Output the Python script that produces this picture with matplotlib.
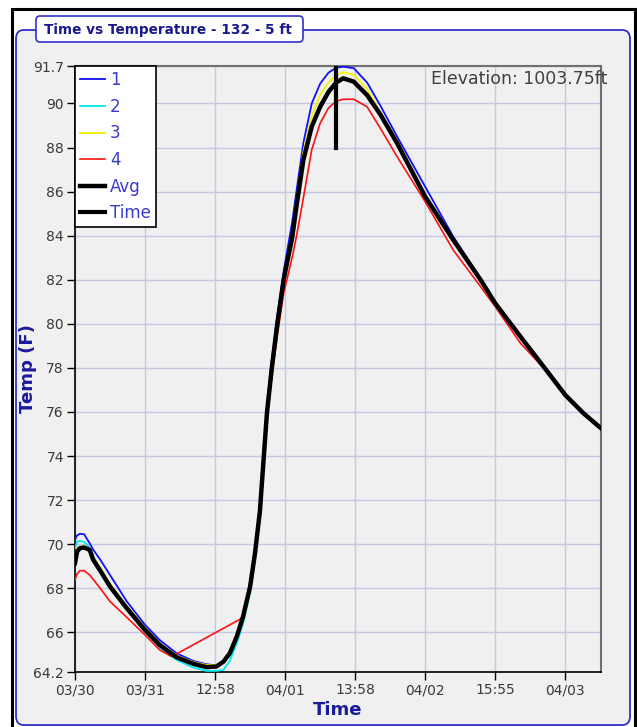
import matplotlib
matplotlib.use("Agg")
import matplotlib.pyplot as plt
from matplotlib.patches import FancyBboxPatch, Rectangle

# x positions in tick units (one unit per labelled tick)
x = [0, 0.03, 0.07, 0.13, 0.21, 0.26, 0.36, 0.5, 0.74, 1.0, 1.21, 1.45, 1.69, 1.88,
     2.02, 2.12, 2.21, 2.31, 2.4, 2.5, 2.57, 2.64, 2.74, 2.81, 2.89, 2.98, 3.1, 3.17,
     3.26, 3.38, 3.5, 3.62, 3.73, 3.83, 3.98, 4.17, 4.36, 4.6, 5.0, 5.4, 5.79, 6.0,
     6.36, 6.69, 7.0, 7.26, 7.51]

s1 = [70.2, 70.4, 70.47, 70.45, 70.04, 69.75, 69.3, 68.6, 67.4, 66.34, 65.65, 65.05,
      64.7, 64.55, 64.5, 64.67, 65.05, 65.85, 66.8, 68.2, 69.8, 71.8, 76.3, 78.4, 80.4,
      82.4, 84.6, 86.2, 88.2, 90.0, 90.9, 91.4, 91.62, 91.67, 91.6, 90.95, 89.9, 88.49,
      86.22, 83.96, 82.05, 80.95, 79.45, 78.08, 76.78, 75.95, 75.27]

s2 = [69.8, 70.12, 70.15, 70.1, 69.85, 69.45, 68.9, 68.15, 67.05, 66.0, 65.3, 64.75,
      64.4, 64.25, 64.25, 64.3, 64.7, 65.5, 66.4, 67.8, 69.3, 71.2, 75.6, 77.7, 79.8,
      81.8, 83.8, 85.4, 87.4, 88.95, 89.85, 90.55, 90.98, 91.16, 91.02, 90.4, 89.45,
      88.2, 85.78, 83.82, 82.0, 80.92, 79.4, 78.03, 76.73, 75.9, 75.22]

s3 = [69.3, 69.8, 69.9, 69.92, 69.8, 69.4, 68.95, 68.2, 67.2, 66.2, 65.5, 64.95,
      64.65, 64.52, 64.52, 64.7, 65.1, 65.85, 66.75, 68.1, 69.6, 71.5, 76.0, 78.1, 80.1,
      82.1, 84.1, 85.8, 87.8, 89.4, 90.4, 90.95, 91.3, 91.42, 91.3, 90.65, 89.6, 88.3,
      85.85, 83.85, 82.02, 80.95, 79.44, 78.08, 76.8, 75.96, 75.28]

avg = [69.14, 69.66, 69.82, 69.85, 69.74, 69.29, 68.8, 68.08, 67.09, 66.11, 65.43,
       64.87, 64.57, 64.42, 64.45, 64.67, 65.05, 65.81, 66.72, 68.08, 69.59, 71.5,
       75.94, 78.0, 80.03, 82.02, 83.9, 85.5, 87.43, 88.95, 89.85, 90.53, 90.95, 91.14,
       90.99, 90.38, 89.5, 88.19, 85.77, 83.81, 82.0, 80.93, 79.42, 78.06, 76.77, 75.94,
       75.26]

# sensor 4 has a gap in the data that the chart bridges with a straight line
x4 = [0, 0.03, 0.07, 0.13, 0.21, 0.36, 0.5, 0.74, 1.0, 1.21, 1.38, 2.36, 2.4, 2.5,
      2.57, 2.64, 2.74, 2.81, 2.89, 2.98, 3.1, 3.17, 3.26, 3.38, 3.5, 3.62, 3.73, 3.83,
      3.98, 4.17, 4.36, 4.6, 5.0, 5.4, 5.79, 6.0, 6.36, 6.69, 7.0, 7.26, 7.51]
s4 = [68.38, 68.65, 68.8, 68.8, 68.6, 68.0, 67.4, 66.68, 65.88, 65.2, 64.9, 66.6,
      66.72, 68.0, 69.4, 71.2, 75.6, 77.6, 79.5, 81.4, 83.0, 84.1, 85.7, 87.9, 89.1,
      89.8, 90.1, 90.19, 90.19, 89.85, 88.87, 87.58, 85.54, 83.35, 81.69, 80.78, 79.12,
      78.0, 76.75, 75.92, 75.24]

time_mark = 3.73
time_span = [88.0, 91.7]

xtick_pos = [0, 1, 2, 3, 4, 5, 6, 7]
xtick_labels = ["03/30", "03/31", "12:58", "04/01", "13:58", "04/02", "15:55", "04/03"]
ytick_pos = [64.2, 66, 68, 70, 72, 74, 76, 78, 80, 82, 84, 86, 88, 90, 91.7]
ytick_labels = ["64.2", "66", "68", "70", "72", "74", "76", "78", "80", "82", "84",
                "86", "88", "90", "91.7"]

W, H = 637, 727
fig = plt.figure(figsize=(W / 100, H / 100), dpi=100)
fig.patch.set_facecolor("white")

# outer black frame
fig.patches.append(Rectangle((12 / W, -0.01), (635 - 12) / W, 1.01 - 9 / H,
                             transform=fig.transFigure, fill=False,
                             edgecolor="black", linewidth=2.2, zorder=0))
# grey panel with blue rounded border
fig.patches.append(FancyBboxPatch((16 / W, 2 / H), (630 - 16) / W, (697 - 2) / H,
                                  boxstyle="round,pad=0,rounding_size=0.012",
                                  transform=fig.transFigure, facecolor="#f0f0f0",
                                  edgecolor="#3030c8", linewidth=1.3, zorder=0.5))
# title box
fig.patches.append(FancyBboxPatch((36 / W, 1 - 42 / H), (303 - 36) / W, 26 / H,
                                  boxstyle="round,pad=0,rounding_size=0.006",
                                  transform=fig.transFigure, facecolor="white",
                                  edgecolor="#3030c8", linewidth=1.2, zorder=1))
fig.text(168 / W, 1 - 30 / H, "Time vs Temperature - 132 - 5 ft", ha="center",
         va="center", fontsize=9.8, fontweight="bold", color="#1a1a8c", zorder=2)

ax = fig.add_axes([75 / W, 1 - 672 / H, (601 - 75) / W, (672 - 66) / H])
ax.set_zorder(3)
ax.set_facecolor("#f0f0f0")

ax.plot(x, s1, color="#1010ff", linewidth=1.3, label="1", zorder=3)
ax.plot(x, s2, color="#00e8f0", linewidth=1.3, label="2", zorder=3)
ax.plot(x, s3, color="#f5f000", linewidth=1.3, label="3", zorder=3)
ax.plot(x4, s4, color="#ff1010", linewidth=1.2, label="4", zorder=3)
ax.plot(x, avg, color="black", linewidth=3.2, label="Avg", zorder=4)
ax.plot([time_mark, time_mark], time_span, color="black", linewidth=3, label="Time",
        zorder=5)

ax.set_xlim(0, 7.51)
ax.set_ylim(64.2, 91.7)
ax.set_xticks(xtick_pos)
ax.set_xticklabels(xtick_labels)
ax.set_yticks(ytick_pos)
ax.set_yticklabels(ytick_labels)
ax.grid(True, color="#c6c6e6", linewidth=1)
ax.tick_params(axis="both", direction="out", length=6, width=1, colors="black",
               labelcolor="#3a3a3a", labelsize=10, pad=2)

for side in ["left", "bottom"]:
    ax.spines[side].set_color("black")
    ax.spines[side].set_linewidth(1.2)
for side in ["top", "right"]:
    ax.spines[side].set_color("#707070")
    ax.spines[side].set_linewidth(1.5)

ax.set_xlabel("Time", fontsize=13, fontweight="bold", color="#1a1a9c", labelpad=3)
ax.set_ylabel("Temp (F)", fontsize=13, fontweight="bold", color="#1a1a9c")
ax.yaxis.set_label_coords(-0.072, 0.5)

ax.text(1.013, 0.993, "Elevation: 1003.75ft", transform=ax.transAxes, ha="right",
        va="top", fontsize=12.5, color="#404040", zorder=6)

leg = ax.legend(loc="upper left", borderaxespad=0, fancybox=False, framealpha=1,
                edgecolor="black", fontsize=12, handlelength=1.5, handletextpad=0.3,
                labelspacing=0.52, borderpad=0.3, labelcolor="#3a3ad0")
leg.get_frame().set_linewidth(1.2)
leg.set_zorder(10)

fig.savefig("out.png", dpi=100)
